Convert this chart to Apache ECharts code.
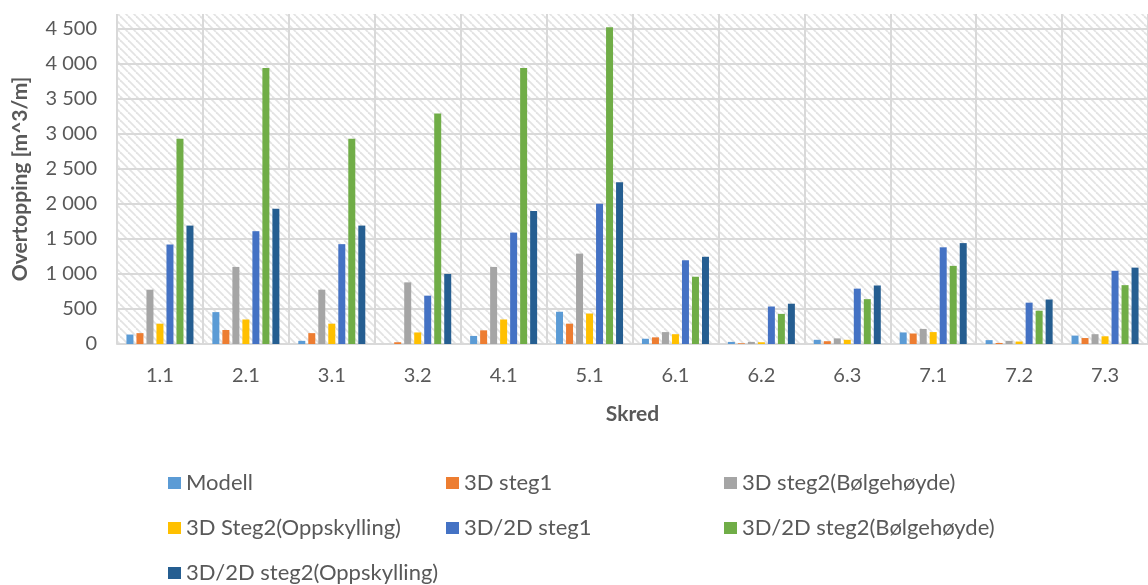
<!DOCTYPE html>
<html>
<head>
<meta charset="utf-8">
<script src="https://cdn.jsdelivr.net/npm/echarts@6/dist/echarts.min.js"></script>
<style>
  html, body { margin: 0; padding: 0; background: #fff; }
  #chart { width: 1148px; height: 585px; }
</style>
</head>
<body>
<div id="chart"></div>
<script>
// Slide (skred) cases along the x axis
const categories = ['1.1', '2.1', '3.1', '3.2', '4.1', '5.1', '6.1', '6.2', '6.3', '7.1', '7.2', '7.3'];

// Overtopping volumes [m^3/m] per method
const modell            = [135, 455, 45, 0, 115, 460, 75, 30, 60, 165, 55, 120];
const steg1_3D          = [155, 200, 155, 25, 195, 290, 95, 10, 40, 150, 15, 85];
const steg2Bolge_3D     = [775, 1100, 775, 880, 1100, 1290, 170, 30, 80, 215, 45, 140];
const steg2Opp_3D       = [290, 350, 290, 165, 350, 435, 140, 25, 60, 170, 35, 110];
const steg1_3D2D        = [1420, 1610, 1425, 690, 1590, 2000, 1195, 535, 790, 1380, 590, 1045];
const steg2Bolge_3D2D   = [2930, 3940, 2930, 3290, 3940, 4520, 960, 430, 640, 1115, 475, 840];
const steg2Opp_3D2D     = [1690, 1930, 1690, 1000, 1900, 2310, 1245, 575, 835, 1440, 635, 1090];

const seriesNames = [
  'Modell', '3D steg1', '3D steg2(Bølgehøyde)', '3D Steg2(Oppskylling)',
  '3D/2D steg1', '3D/2D steg2(Bølgehøyde)', '3D/2D steg2(Oppskylling)'
];
const seriesValues = [modell, steg1_3D, steg2Bolge_3D, steg2Opp_3D, steg1_3D2D, steg2Bolge_3D2D, steg2Opp_3D2D];
const seriesColors = ['#5B9BD5', '#ED7D31', '#A5A5A5', '#FFC000', '#4472C4', '#70AD47', '#255E91'];

// Y axis ticks
const yInterval = 500;
const yMax = 4710;

// Downward diagonal hatch used as plot-area fill
function hatchPattern() {
  const size = 8;
  const c = document.createElement('canvas');
  c.width = size; c.height = size;
  const ctx = c.getContext('2d');
  ctx.fillStyle = '#ffffff';
  ctx.fillRect(0, 0, size, size);
  ctx.strokeStyle = '#e3e3e3';
  ctx.lineWidth = 1.8;
  for (const k of [-size, 0, size]) {
    ctx.beginPath();
    ctx.moveTo(k, 0);
    ctx.lineTo(k + size, size);
    ctx.stroke();
  }
  return { image: c, repeat: 'repeat' };
}

const FONT = 'Lato';
const chart = echarts.init(document.getElementById('chart'), null, { renderer: 'canvas' });

const legendCommon = {
  orient: 'vertical',
  icon: 'rect',
  itemWidth: 13,
  itemHeight: 12,
  itemGap: 21,
  padding: 0,
  height: 140,
  textStyle: { fontFamily: FONT, fontSize: 22, color: '#595959', lineHeight: 24 },
  selectedMode: false
};

chart.setOption({
  animation: false,
  backgroundColor: '#ffffff',
  grid: {
    left: 117, right: -5, top: 14, bottom: 241,
    show: true, borderWidth: 0,
    backgroundColor: hatchPattern()
  },
  legend: [
    Object.assign({ left: 168, top: 471, data: [seriesNames[0], seriesNames[3], seriesNames[6]] }, legendCommon),
    Object.assign({ left: 446, top: 471, data: [seriesNames[1], seriesNames[4]] }, legendCommon),
    Object.assign({ left: 724, top: 471, data: [seriesNames[2], seriesNames[5]] }, legendCommon)
  ],
  xAxis: {
    type: 'category',
    data: categories,
    name: 'Skred',
    nameLocation: 'middle',
    nameGap: 60,
    nameTextStyle: { fontFamily: FONT, fontSize: 21, fontWeight: 'bold', color: '#595959' },
    axisLine: { show: true, lineStyle: { color: '#d9d9d9', width: 2 } },
    axisTick: { show: false },
    axisLabel: { fontFamily: FONT, fontSize: 20, color: '#595959', margin: 22 },
    splitLine: { show: true, lineStyle: { color: '#d9d9d9', width: 2 } }
  },
  yAxis: {
    type: 'value',
    min: 0,
    max: yMax,
    interval: yInterval,
    name: 'Overtopping [m^3/m]',
    nameLocation: 'middle',
    nameGap: 86,
    nameTextStyle: { fontFamily: FONT, fontSize: 21, fontWeight: 'bold', color: '#595959' },
    axisLine: { show: false },
    axisTick: { show: false },
    axisLabel: {
      fontFamily: FONT, fontSize: 20, color: '#595959', margin: 20,
      showMaxLabel: false,
      formatter: v => (v % yInterval === 0 ? String(v).replace(/\B(?=(\d{3})+(?!\d))/g, ' ') : '')
    },
    splitLine: { show: true, showMaxLine: false, lineStyle: { color: '#d9d9d9', width: 2 } }
  },
  series: seriesNames.map((name, i) => ({
    name,
    type: 'bar',
    data: seriesValues[i],
    barCategoryGap: '22%',
    barGap: '43%',
    itemStyle: { color: seriesColors[i] }
  }))
});
</script>
</body>
</html>
